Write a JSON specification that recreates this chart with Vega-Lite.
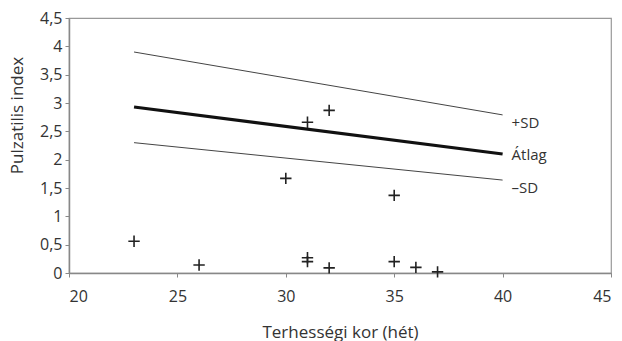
{
  "$schema": "https://vega.github.io/schema/vega-lite/v6.json",
  "width": 542,
  "height": 255,
  "autosize": {"type": "none"},
  "padding": {"left": 69, "top": 18, "right": 11, "bottom": 68},
  "background": "white",
  "config": {
    "view": {"stroke": "#999999", "strokeWidth": 1.2},
    "font": "Open Sans",
    "axis": {
      "grid": false,
      "domainColor": "#888888",
      "domainWidth": 1.5,
      "tickColor": "#888888",
      "tickSize": 4,
      "labelFont": "Open Sans",
      "labelFontSize": 16,
      "labelColor": "#333333",
      "titleFont": "Open Sans",
      "titleFontSize": 17,
      "titleFontWeight": "normal",
      "titleColor": "#333333"
    }
  },
  "datasets": {
    "points": [
      {"kor": 23, "pi": 0.56},
      {"kor": 26, "pi": 0.14},
      {"kor": 30, "pi": 1.67},
      {"kor": 31, "pi": 2.66},
      {"kor": 31, "pi": 0.27},
      {"kor": 31, "pi": 0.2},
      {"kor": 32, "pi": 2.87},
      {"kor": 32, "pi": 0.09},
      {"kor": 35, "pi": 1.37},
      {"kor": 35, "pi": 0.2},
      {"kor": 36, "pi": 0.1},
      {"kor": 37, "pi": 0.02}
    ],
    "lines": [
      {"kor": 23, "pi": 3.9, "series": "+SD", "end": false},
      {"kor": 40, "pi": 2.79, "series": "+SD", "end": true},
      {"kor": 23, "pi": 2.93, "series": "Átlag", "end": false},
      {"kor": 40, "pi": 2.1, "series": "Átlag", "end": true},
      {"kor": 23, "pi": 2.3, "series": "–SD", "end": false},
      {"kor": 40, "pi": 1.64, "series": "–SD", "end": true}
    ]
  },
  "encoding": {
    "x": {
      "field": "kor",
      "type": "quantitative",
      "scale": {"domain": [20, 45], "nice": false, "zero": false},
      "axis": {"values": [20, 25, 30, 35, 40, 45], "title": "Terhességi kor (hét)", "titleY": 59, "titleBaseline": "middle", "labelPadding": 11}
    },
    "y": {
      "field": "pi",
      "type": "quantitative",
      "scale": {"domain": [0, 4.5], "nice": false},
      "axis": {"values": [0, 0.5, 1, 1.5, 2, 2.5, 3, 3.5, 4, 4.5], "format": ",.1~f", "labelExpr": "replace(datum.label, '.', ',')", "title": "Pulzatilis index", "titleX": -52, "titleY": 97, "titleBaseline": "middle", "titleAngle": -90, "labelPadding": 3}
    }
  },
  "layer": [
    {
      "data": {"name": "lines"},
      "transform": [{"filter": "datum.series !== 'Átlag'"}],
      "mark": {"type": "line", "color": "#444444", "strokeWidth": 1},
      "encoding": {"detail": {"field": "series"}}
    },
    {
      "data": {"name": "lines"},
      "transform": [{"filter": "datum.series === 'Átlag'"}],
      "mark": {"type": "line", "color": "#111111", "strokeWidth": 3.2},
      "encoding": {}
    },
    {
      "data": {"name": "lines"},
      "transform": [{"filter": "datum.end && datum.series !== 'Átlag'"}],
      "mark": {"type": "text", "align": "left", "baseline": "middle", "dx": 9, "dy": 8, "fontSize": 15, "color": "#333333", "font": "Open Sans"},
      "encoding": {"text": {"field": "series"}}
    },
    {
      "data": {"name": "lines"},
      "transform": [{"filter": "datum.end && datum.series === 'Átlag'"}],
      "mark": {"type": "text", "align": "left", "baseline": "middle", "dx": 9, "dy": 1, "fontSize": 15, "color": "#333333", "font": "Open Sans"},
      "encoding": {"text": {"field": "series"}}
    },
    {
      "data": {"name": "points"},
      "mark": {"type": "point", "shape": "M-1,0H1M0,-1V1", "filled": false, "color": "#222222", "strokeWidth": 1.6, "size": 130, "opacity": 1},
      "encoding": {}
    }
  ]
}
